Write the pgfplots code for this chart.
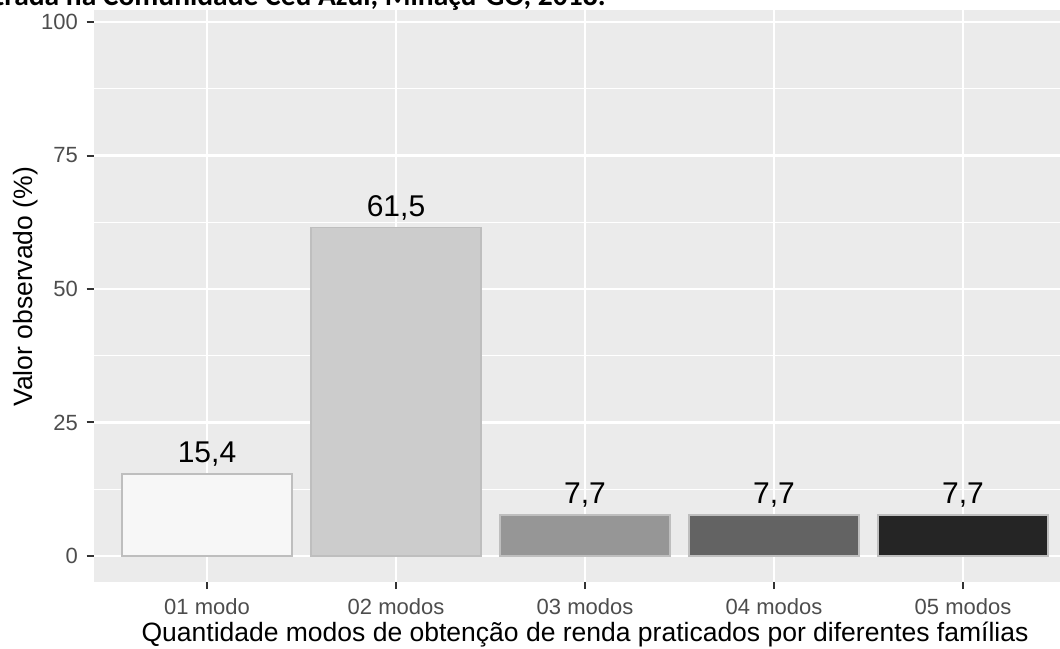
\documentclass[border=0pt]{standalone}
\usepackage{fontspec}
\setmainfont{Liberation Sans}
\newfontfamily\titlefont{Carlito}
\usepackage{pgfplots}
\pgfplotsset{compat=1.18}

\definecolor{panelbg}{HTML}{EBEBEB}
\definecolor{ticktext}{HTML}{4D4D4D}
\definecolor{tickmark}{HTML}{333333}
\definecolor{barline}{HTML}{BEBEBE}
\definecolor{g1}{HTML}{F7F7F7}
\definecolor{g2}{HTML}{CCCCCC}
\definecolor{g3}{HTML}{969696}
\definecolor{g4}{HTML}{636363}
\definecolor{g5}{HTML}{252525}

\begin{document}
\begin{tikzpicture}[x=1pt,y=1pt]
\path[use as bounding box, clip] (0,0) rectangle (1060,648);

% cut-off title of the original figure
\node[anchor=base west, inner sep=0pt, font=\titlefont\bfseries\fontsize{29.5}{34}\selectfont]
  at (-6,642) {trada na Comunidade Céu Azul, Minaçu-GO, 2018.};

\begin{axis}[
    at={(93.6pt,66pt)}, anchor=south west,
    scale only axis,
    width=982.8pt, height=572pt,
    xmin=-0.6, xmax=4.6,
    ymin=-4.87, ymax=102.25,
    ybar, bar width=0.9, bar shift=0pt,
    axis background/.style={fill=panelbg},
    axis line style={draw=none},
    xtick={0,1,2,3,4},
    xticklabels={01 modo, 02 modos, 03 modos, 04 modos, 05 modos},
    ytick={0,25,50,75,100},
    minor ytick={12.5,37.5,62.5,87.5},
    xtick pos=bottom, ytick pos=left,
    tick align=outside,
    major tick length=7pt, minor tick length=0pt,
    tick style={color=tickmark, line width=2pt},
    xmajorgrids, ymajorgrids, yminorgrids,
    major grid style={white, line width=2.4pt},
    minor grid style={white, line width=1.2pt},
    /pgf/number format/assume math mode=true,
    ticklabel style={font=\fontsize{22}{26}\selectfont, text=ticktext},
    yticklabel style={anchor=east, inner sep=0pt, xshift=-8.6pt},
    xticklabel style={anchor=base, inner sep=0pt, yshift=-25pt},
    xlabel={Quantidade modos de obtenção de renda praticados por diferentes famílias},
    xlabel style={at={(axis description cs:0.5,0)}, anchor=base, inner sep=0pt,
      yshift=-59pt, font=\fontsize{26.5}{30}\selectfont},
    ylabel={Valor observado (\%)},
    ylabel style={at={([xshift=-60.6pt]axis description cs:0,0.516)}, anchor=base,
      inner sep=0pt, font=\fontsize{26.5}{30}\selectfont},
    nodes near coords,
    nodes near coords style={anchor=base, inner sep=0pt, yshift=11pt,
      font=\fontsize{30}{34}\selectfont, text=black,
      /pgf/number format/.cd, fixed, precision=1, fixed zerofill, use comma,
      assume math mode=true},
    clip=false,
]
\addplot[fill=g1, draw=barline, line width=1.5pt] coordinates {(0,15.4)};
\addplot[fill=g2, draw=barline, line width=1.5pt] coordinates {(1,61.5)};
\addplot[fill=g3, draw=barline, line width=1.5pt] coordinates {(2,7.7)};
\addplot[fill=g4, draw=barline, line width=1.5pt] coordinates {(3,7.7)};
\addplot[fill=g5, draw=barline, line width=1.5pt] coordinates {(4,7.7)};
\end{axis}
\end{tikzpicture}
\end{document}
